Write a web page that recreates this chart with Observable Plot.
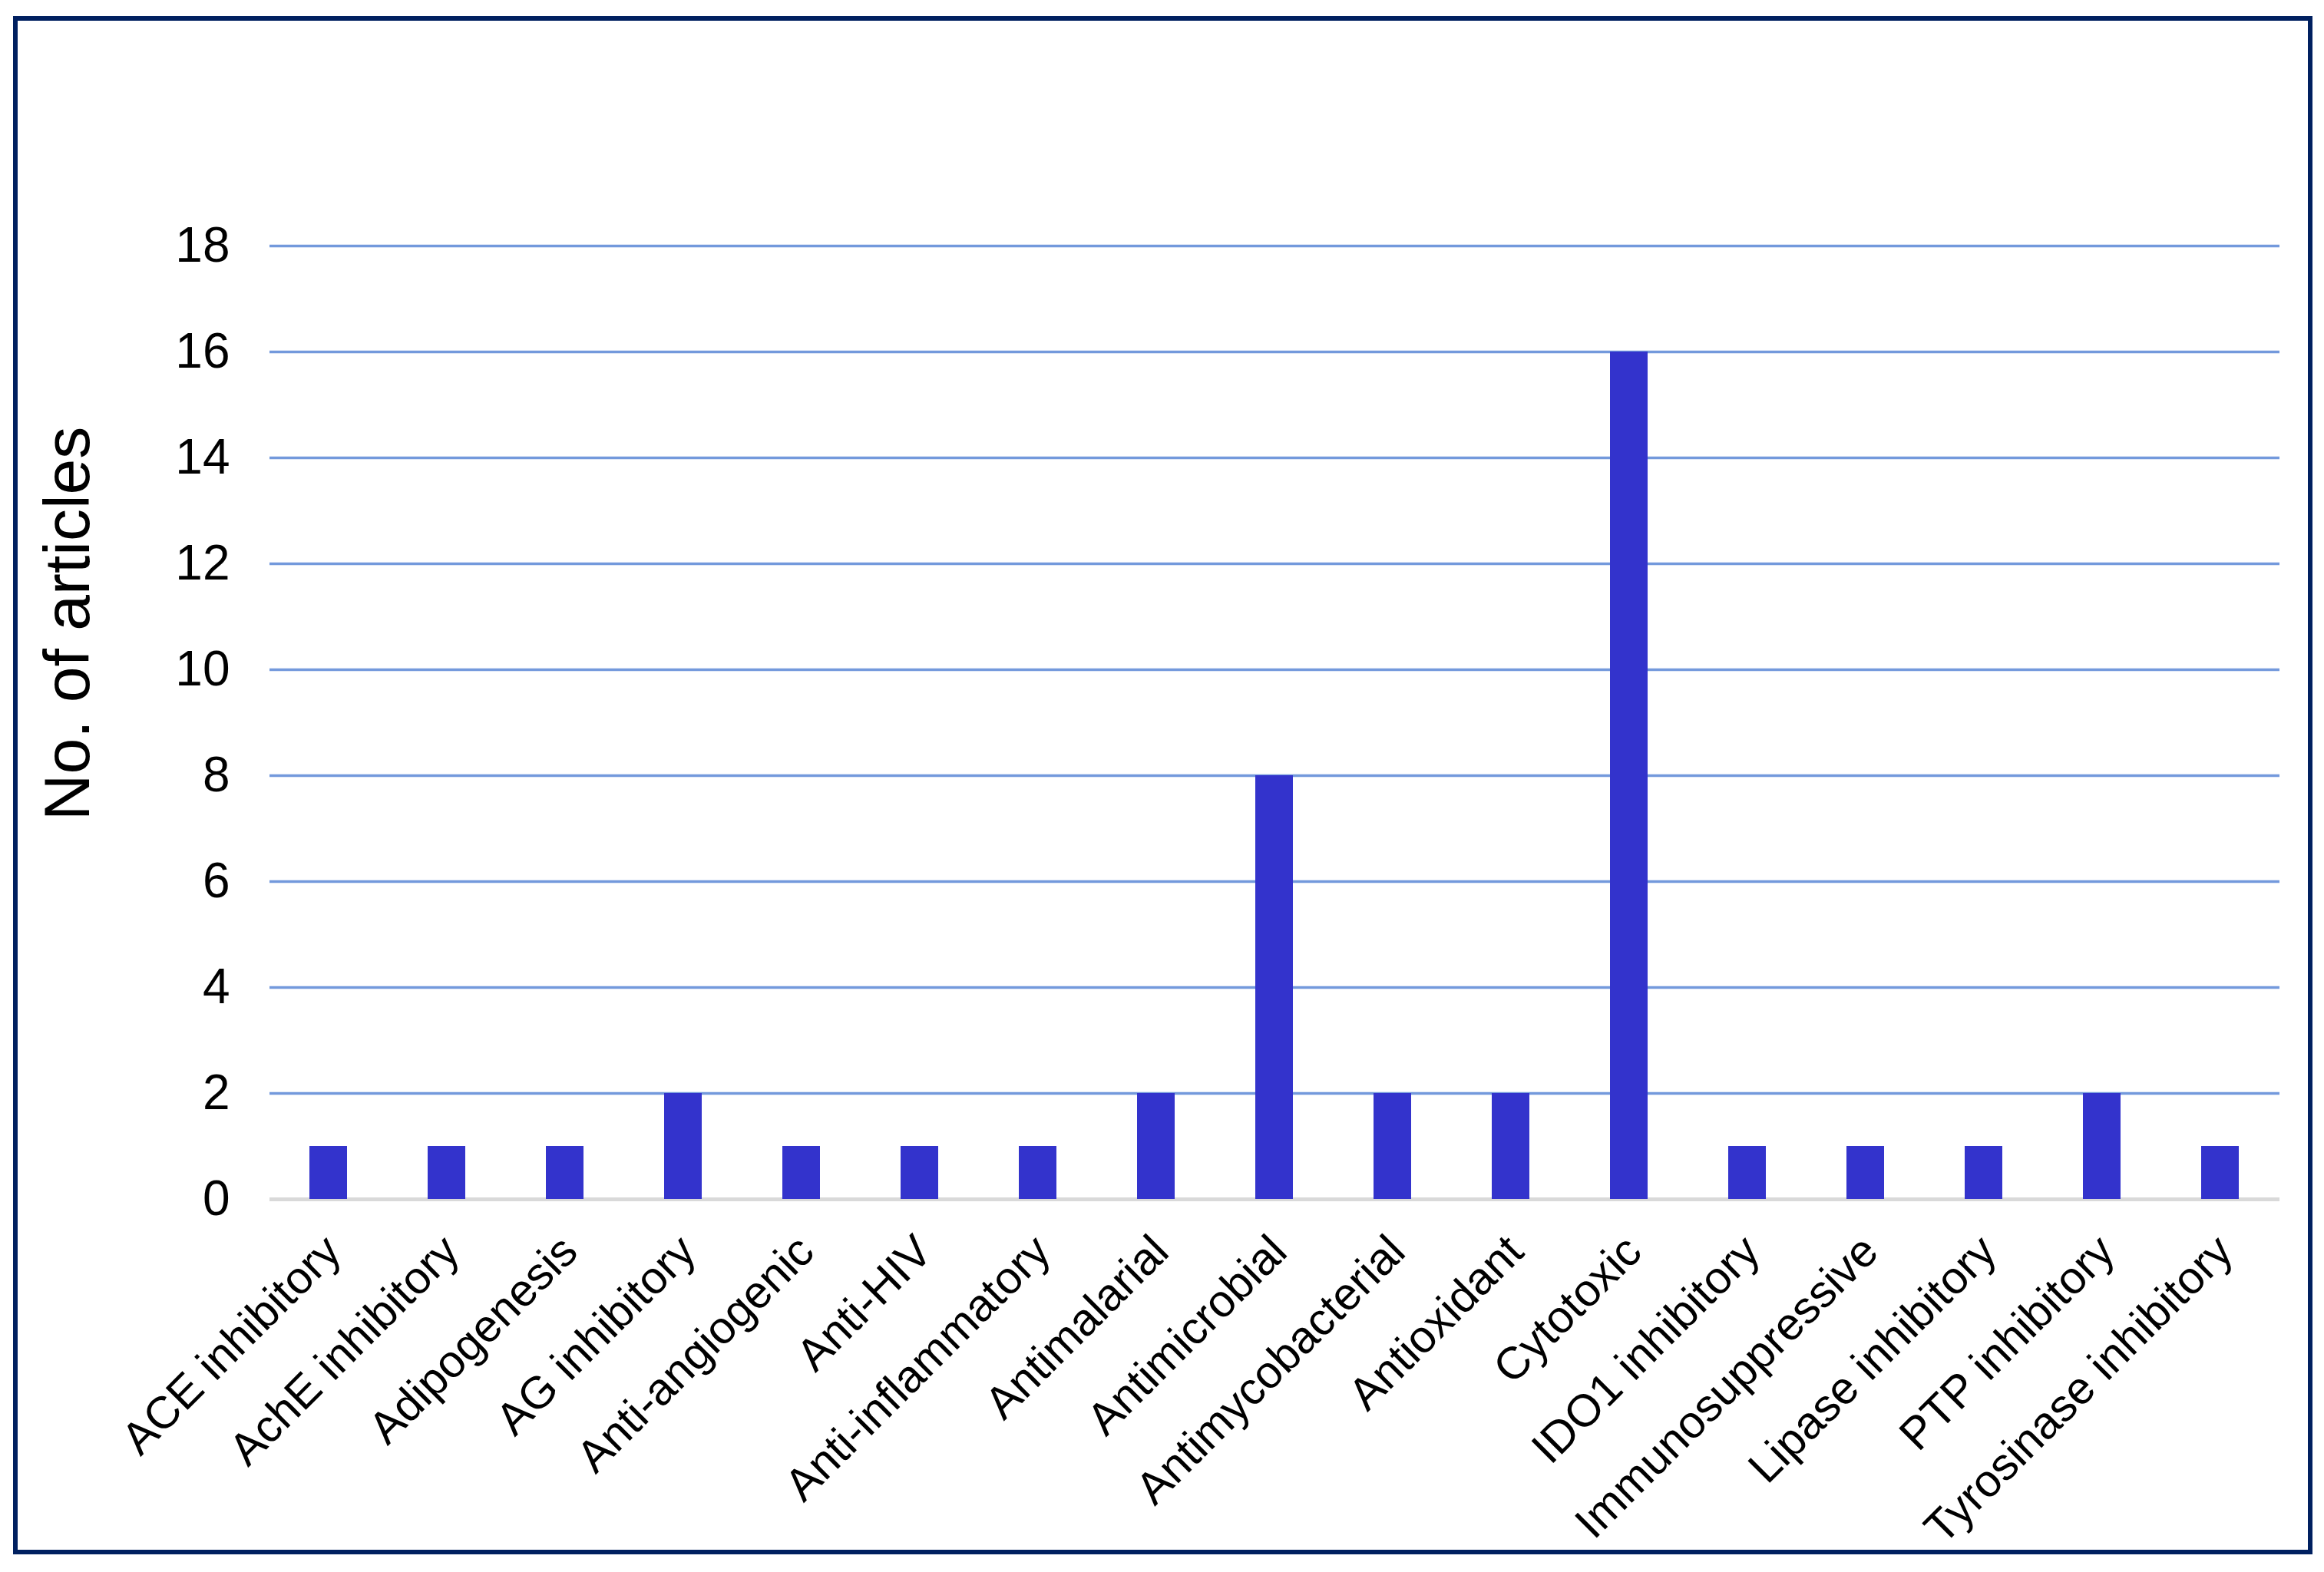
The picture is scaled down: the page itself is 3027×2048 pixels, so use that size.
<!DOCTYPE html>
<html>
<head>
<meta charset="utf-8">
<script src="https://cdn.jsdelivr.net/npm/d3@7"></script>
<script src="https://cdn.jsdelivr.net/npm/@observablehq/plot@0.6"></script>
<style>
  html, body { margin: 0; padding: 0; background: white; }
  #wrap { position: relative; width: 3027px; height: 2048px; overflow: hidden; }
  #frame { position: absolute; left: 17px; top: 21px; width: 2995px; height: 2004px;
           box-sizing: border-box; border: 6px solid #002060; pointer-events: none; }
</style>
</head>
<body>
<div id="wrap"><div id="chart"></div><div id="frame"></div></div>
<script>
const categories = [
  "ACE inhibitory", "AchE inhibitory", "Adipogenesis", "AG inhibitory",
  "Anti-angiogenic", "Anti-HIV", "Anti-inflammatory", "Antimalarial",
  "Antimicrobial", "Antimycobacterial", "Antioxidant", "Cytotoxic",
  "IDO1 inhibitory", "Immunosuppressive", "Lipase inhibitory", "PTP inhibitory",
  "Tyrosinase inhibitory"
];
const counts = [1, 1, 1, 2, 1, 1, 1, 2, 8, 2, 2, 16, 1, 1, 1, 2, 1];
const yTicks = [0, 2, 4, 6, 8, 10, 12, 14, 16, 18];
const yTitle = "No. of articles";

const data = categories.map((c, i) => ({category: c, count: counts[i]}));

const chart = Plot.plot({
  width: 3027,
  height: 2048,
  marginLeft: 351,
  marginRight: 58,
  marginTop: 320,
  marginBottom: 486,
  style: {fontFamily: "'Liberation Sans', Arial, sans-serif", fontSize: "62px", color: "black", background: "white"},
  x: {domain: categories, paddingInner: 0.68, paddingOuter: 0.34, label: null},
  y: {domain: [0, 18], label: null},
  marks: [
    Plot.gridY(yTicks.filter(d => d > 0), {stroke: "#7399dc", strokeOpacity: 1, strokeWidth: 3.5}),
    Plot.ruleY([0], {stroke: "#d9d9d9", strokeWidth: 5}),
    Plot.barY(data, {x: "category", y: "count", fill: "#3333cc"}),
    Plot.axisY({ticks: yTicks, tickSize: 0, tickPadding: 52, fontSize: 64, label: null}),
    Plot.axisX({tickRotate: -45, tickSize: 0, tickPadding: 58, dx: 6, fontSize: 59, label: null}),
    Plot.text([yTitle], {text: d => d, frameAnchor: "left", textAnchor: "middle", lineAnchor: "middle",
      rotate: -90, dx: -262, dy: -129, fontSize: 84, fill: "black"})
  ]
});
document.getElementById("chart").appendChild(chart);
</script>
</body>
</html>
